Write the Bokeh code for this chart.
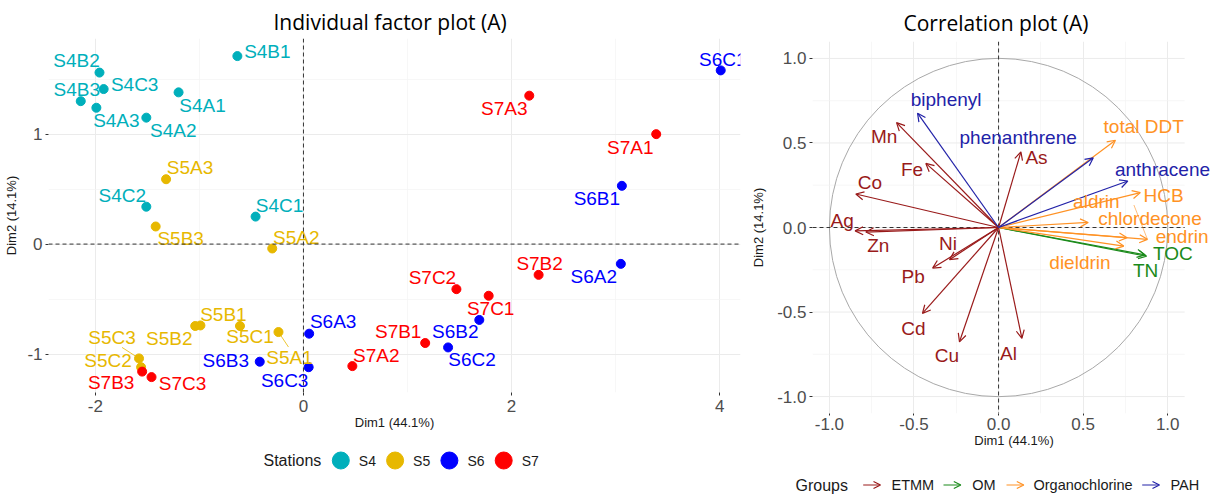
from bokeh.plotting import figure
from bokeh.models import (ColumnDataSource, Range1d, Span, FixedTicker, Arrow,
                          OpenHead, LabelSet)
from bokeh.layouts import row, column
from bokeh.embed import file_html
from bokeh.resources import INLINE
from bokeh.core.properties import value

# ---------------- data: individuals ----------------
ind_names = ["S4B1", "S4B2", "S4C3", "S4B3", "S4A3", "S4A1", "S4A2", "S4C2", "S4C1",
             "S5A3", "S5B3", "S5A2", "S5B1", "S5B2", "S5C1", "S5A1", "S5C3", "S5C2",
             "S6B3", "S6C3", "S6A3", "S6C2", "S6B2", "S6A2", "S6B1", "S6C1",
             "S7B3", "S7C3", "S7A2", "S7B1", "S7C1", "S7C2", "S7B2", "S7A3", "S7A1"]
ind_dim1 = [-0.635, -1.96, -1.92, -2.14, -1.99, -1.20, -1.51, -1.51, -0.46,
            -1.32, -1.42, -0.30, -0.99, -1.04, -0.61, -0.24, -1.58, -1.56,
            -0.42, 0.05, 0.055, 1.39, 1.69, 3.05, 3.06, 4.01,
            -1.55, -1.46, 0.47, 1.17, 1.78, 1.47, 2.26, 2.17, 3.39]
ind_dim2 = [1.71, 1.56, 1.41, 1.30, 1.24, 1.38, 1.15, 0.34, 0.25,
            0.59, 0.16, -0.04, -0.74, -0.745, -0.745, -0.80, -1.04, -1.12,
            -1.07, -1.12, -0.815, -0.94, -0.69, -0.18, 0.53, 1.58,
            -1.16, -1.21, -1.11, -0.90, -0.47, -0.41, -0.28, 1.35, 1.00]
stations = ["S4", "S5", "S6", "S7"]
station_colors = ["#00AFBB", "#E7B800", "#0000FF", "#FF0000"]

# ---------------- data: variables ----------------
var_names = ["Mn", "Fe", "Co", "As", "Ag", "Zn", "Ni", "Pb", "Cd", "Cu", "Al",
             "TOC", "TN",
             "total DDT", "aldrin", "HCB", "chlordecone", "endrin", "dieldrin",
             "biphenyl", "phenanthrene", "anthracene"]
var_dim1 = [-0.603, -0.43, -0.844, 0.132, -0.848, -0.785, -0.29, -0.39, -0.45, -0.231, 0.138,
            0.875, 0.866,
            0.691, 0.838, 0.88, 0.53, 0.76, 0.74,
            -0.479, 0.56, 0.764]
var_dim2 = [0.62, 0.379, 0.198, 0.447, -0.02, -0.027, -0.19, -0.24, -0.508, -0.676, -0.655,
            -0.17, -0.162,
            0.516, 0.206, -0.07, 0.03, -0.06, -0.11,
            0.676, 0.412, 0.275]
var_group = ["ETMM"] * 11 + ["OM"] * 2 + ["Organochlorine"] * 6 + ["PAH"] * 3
groups = ["ETMM", "OM", "Organochlorine", "PAH"]
group_colors = ["#991A1A", "#1A8A1A", "#FF9224", "#2222A8"]

dim1_title = "Dim1 (44.1%)"
dim2_title = "Dim2 (14.1%)"

# ---------------- layout (label placement) ----------------
ind_lab_dx = [30, -23, 31, -4, 20, 24, 27, -24, 24,
              24, 25, 24, 23, -26, 10, 11, -27, -33,
              -34, -24, 24, 24, -24, -27, -25, 2,
              -31, 31, 24, -27, 2, -24, 1, -25, -26]
ind_lab_dy = [-5, -12, -5, -12, 13, 13, 13, -11, -11,
              -12, 12, -11, -11, 13, 11, 25, -21, -7,
              -1, 13, -12, 12, 12, 13, 13, -11,
              11, 6, -11, -12, 13, -12, -11, 13, 13]
seg_names = ["S5A1", "S5C3"]
seg_dx = [10, -17]
seg_dy = [15, -11]

var_lab_x = [-0.676, -0.512, -0.76, 0.224, -0.925, -0.711, -0.299, -0.505, -0.504, -0.306, 0.059,
             1.03, 0.869,
             0.858, 0.578, 0.975, 0.895, 1.085, 0.481,
             -0.31, 0.116, 0.969]
var_lab_y = [0.541, 0.343, 0.267, 0.414, 0.041, -0.107, -0.097, -0.288, -0.597, -0.756, -0.744,
             -0.156, -0.257,
             0.598, 0.153, 0.188, 0.051, -0.055, -0.207,
             0.757, 0.535, 0.345]

LABFONT = "Liberation Sans"
TITLEFONT = "Open Sans"
GRID_MAJOR = "#EBEBEB"
GRID_MINOR = "#F3F3F3"


def style_axes(p, xticks, xminor, xlabels, yticks, yminor, ylabels):
    p.xaxis.ticker = FixedTicker(ticks=xticks, minor_ticks=xminor)
    p.yaxis.ticker = FixedTicker(ticks=yticks, minor_ticks=yminor)
    p.xaxis.major_label_overrides = {t: l for t, l in zip(xticks, xlabels)}
    p.yaxis.major_label_overrides = {t: l for t, l in zip(yticks, ylabels)}
    for ax in (p.xaxis[0], p.yaxis[0]):
        ax.axis_line_color = None
        ax.major_tick_line_color = "#333333"
        ax.major_tick_in = 0
        ax.major_tick_out = 3
        ax.minor_tick_line_color = None
        ax.major_label_text_font = LABFONT
        ax.major_label_text_font_size = "17px"
        ax.major_label_text_color = "#4D4D4D"
        ax.axis_label_text_font = LABFONT
        ax.axis_label_text_font_size = "13px"
        ax.axis_label_text_font_style = "normal"
        ax.axis_label_text_color = "#1A1A1A"
    p.grid.grid_line_color = GRID_MAJOR
    p.grid.grid_line_width = 1
    p.grid.minor_grid_line_color = GRID_MINOR
    p.grid.minor_grid_line_width = 0.7
    p.outline_line_color = None
    p.title.text_font = TITLEFONT
    p.title.text_font_size = "21px"
    p.title.text_font_style = "normal"
    p.title.text_color = "#000000"
    p.title.align = "left"


H = 450

# ---------------- left: individuals ----------------
X0, X1, Y0, Y1 = -2.45, 4.2, -1.35, 1.87
W1 = 748
BL, BR, BT = 48, 8, 38
FH1 = 354
p1 = figure(width=W1, height=H, x_range=Range1d(X0, X1), y_range=Range1d(Y0, Y1),
            output_backend="svg", toolbar_location=None,
            min_border_left=BL, min_border_right=BR, min_border_top=BT,
            min_border_bottom=H - BT - FH1,
            title="Individual factor plot (A)", x_axis_label=dim1_title, y_axis_label=dim2_title)
style_axes(p1, [-2, 0, 2, 4], [-1, 1, 3], ["-2", "0", "2", "4"],
           [-1, 0, 1], [-0.5, 0.5, 1.5], ["-1", "0", "1"])
p1.title.standoff = 5
p1.title.offset = 225
p1.xaxis.major_label_standoff = 3
p1.xaxis.axis_label_standoff = 0
p1.yaxis.major_label_standoff = 2
p1.yaxis.axis_label_standoff = 5

p1.add_layout(Span(location=0, dimension="height", line_dash="4 3", line_color="#333333", line_width=1))
p1.add_layout(Span(location=0, dimension="width", line_dash="4 3", line_color="#333333", line_width=1))

cmap = dict(zip(stations, station_colors))
ind_col = [cmap[n[:2]] for n in ind_names]
src1 = ColumnDataSource(dict(x=ind_dim1, y=ind_dim2, name=ind_names, color=ind_col,
                             dx=ind_lab_dx, dy=ind_lab_dy))

# connector segments (label repel lines)
XS = (W1 - BL - BR) / (X1 - X0)
YS = FH1 / (Y1 - Y0)
sx0, sy0, sx1, sy1, sc = [], [], [], [], []
for n, ddx, ddy in zip(seg_names, seg_dx, seg_dy):
    i = ind_names.index(n)
    sx0.append(ind_dim1[i]); sy0.append(ind_dim2[i])
    sx1.append(ind_dim1[i] + ddx / XS); sy1.append(ind_dim2[i] - ddy / YS)
    sc.append(ind_col[i])
p1.segment(x0=sx0, y0=sy0, x1=sx1, y1=sy1, line_color=sc, line_width=0.8)

p1.scatter(x="x", y="y", color="color", size=9, source=src1)
p1.text(x="x", y="y", text="name", x_offset="dx", y_offset="dy", text_color="color",
        text_font=value(LABFONT), text_font_size="19px", text_align="center",
        text_baseline="middle", source=src1)

# ---------------- right: variables ----------------
W2 = 1215 - W1
BL2, BT2 = 62, 41
FW2 = W2 - BL2            # frame reaches the right edge so labels are not cut
PXU = 170.0               # pixels per unit (both axes)
FH2 = int(round(2.2 * PXU))
XR0 = -1.1
XR1 = XR0 + FW2 / PXU
p2 = figure(width=W2, height=H, x_range=Range1d(XR0, XR1), y_range=Range1d(-1.1, 1.1),
            output_backend="svg", toolbar_location=None,
            min_border_left=BL2, min_border_right=0, min_border_top=BT2,
            min_border_bottom=H - BT2 - FH2,
            title="Correlation plot (A)", x_axis_label=dim1_title, y_axis_label=dim2_title)
ticks = [-1, -0.5, 0, 0.5, 1]
minors = [-0.75, -0.25, 0.25, 0.75]
tlabs = ["-1.0", "-0.5", "0.0", "0.5", "1.0"]
style_axes(p2, ticks, minors, tlabs, ticks, minors, tlabs)
p2.title.standoff = 9
p2.title.offset = 91
p2.xaxis.major_tick_out = 2
p2.xaxis.major_label_standoff = 0
p2.xaxis.axis_label_standoff = 0
p2.yaxis.major_label_standoff = 2
p2.yaxis.axis_label_standoff = 8
p2.ygrid.visible = False
# horizontal grid lines limited to the panel (-1.1 .. 1.1)
p2.segment(x0=[-1.1] * len(minors), y0=minors, x1=[1.1] * len(minors), y1=minors,
           line_color=GRID_MINOR, line_width=0.7)
p2.segment(x0=[-1.1] * len(ticks), y0=ticks, x1=[1.1] * len(ticks), y1=ticks,
           line_color=GRID_MAJOR, line_width=1)

p2.circle(x=[0], y=[0], radius=1, fill_color=None, line_color="#A8A8A8", line_width=1)
p2.add_layout(Span(location=0, dimension="height", line_dash="4 3", line_color="#333333", line_width=1))
p2.segment(x0=[-1.1], y0=[0], x1=[1.1], y1=[0], line_dash="4 3", line_color="#333333", line_width=1)

gmap = dict(zip(groups, group_colors))
# HCB label connector
hi = var_names.index("HCB")
p2.segment(x0=[var_lab_x[hi] - 0.175], y0=[var_lab_y[hi] - 0.055], x1=[var_dim1[hi]], y1=[var_dim2[hi]],
           line_color=gmap["Organochlorine"], line_width=0.6)

for g in groups:
    idx = [i for i, vg in enumerate(var_group) if vg == g]
    s = ColumnDataSource(dict(x0=[0.0] * len(idx), y0=[0.0] * len(idx),
                              x1=[var_dim1[i] for i in idx], y1=[var_dim2[i] for i in idx]))
    c = gmap[g]
    p2.add_layout(Arrow(end=OpenHead(size=8, line_color=c, line_width=1.2),
                        x_start="x0", y_start="y0", x_end="x1", y_end="y1",
                        line_color=c, line_width=1.2, source=s))

src2 = ColumnDataSource(dict(x=var_lab_x, y=var_lab_y, name=var_names,
                             color=[gmap[g] for g in var_group]))
p2.add_layout(LabelSet(x="x", y="y", text="name", text_color="color", source=src2,
                       text_font=value(LABFONT), text_font_size="19px",
                       text_align="center", text_baseline="middle"))

# ---------------- legends (one strip under both panels) ----------------
LW, LH = W1 + W2, 497 - H
L = figure(width=LW, height=LH, x_range=Range1d(0, LW), y_range=Range1d(LH, 0),
           output_backend="svg", toolbar_location=None,
           x_axis_type=None, y_axis_type=None,
           min_border_left=0, min_border_right=0, min_border_top=0, min_border_bottom=0)
L.grid.visible = False
L.outline_line_color = None

ly1 = 10
L.text(x=[263], y=[ly1], text=["Stations"], text_font=value(LABFONT), text_font_size="16px",
       text_color="#1A1A1A", text_align="left", text_baseline="middle")
cx = [340.3 + 54.3 * i for i in range(len(stations))]
L.scatter(x=cx, y=[ly1] * len(stations), color=station_colors, size=17)
L.text(x=[c + 18 for c in cx], y=[ly1] * len(stations), text=stations, text_font=value(LABFONT),
       text_font_size="14px", text_color="#1A1A1A", text_align="left", text_baseline="middle")

ly2 = 34.5
L.text(x=[795], y=[ly2], text=["Groups"], text_font=value(LABFONT), text_font_size="16px",
       text_color="#1A1A1A", text_align="left", text_baseline="middle")
arrow_x = [862.7, 943, 1006, 1141.7]
text_x = [891, 971.7, 1033, 1170]
for g, ax_ in zip(groups, arrow_x):
    c = gmap[g]
    L.add_layout(Arrow(end=OpenHead(size=7, line_color=c, line_width=1.2),
                       x_start=ax_, y_start=ly2, x_end=ax_ + 17.3, y_end=ly2,
                       line_color=c, line_width=1.2))
L.text(x=text_x, y=[ly2] * 4, text=groups, text_font=value(LABFONT), text_font_size="14.5px",
       text_color="#1A1A1A", text_align="left", text_baseline="middle")

layout = column(row(column(p1), column(p2)), L)
open("out.html", "w").write(file_html(layout, INLINE))
